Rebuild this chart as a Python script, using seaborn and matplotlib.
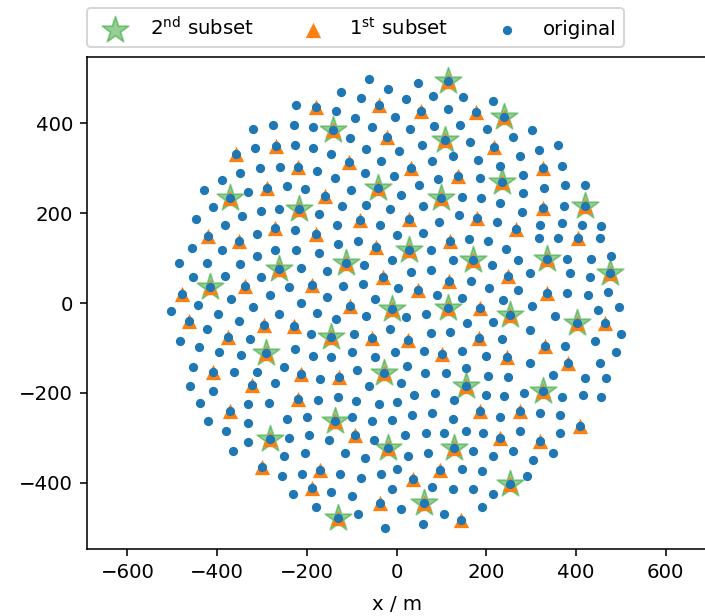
import matplotlib
matplotlib.use("Agg")
import matplotlib.pyplot as plt
import seaborn as sns

# ---- points (metres) ----
# plain points (only in "original")
plain_x = [
    -320, -275, -315, -348, -305, -260, -389, -430, -330, -410, -448, -383, -344, -303, -262,
    -61, -123, -19, -225, -135, -80, -4, -228, -186, -93, -54, -104, -227, -186, -145, -67, 5,
    -177, -136, -71, -35, -6, -245, -205, -102, -173, -121, -67, -15, 10, -132, -37,
    48, 21, 82, 149, 215, 115, 30, 84, 141, 201, 259, 56, 163, 126, 181, 230, 79, 93, 186, 50,
    145, 188, 230, 59, 95, 139, 223,
    301, 317, 360, 275, 370, 282, 328, 375, 420, 282, 374, 279, 320, 369, 413, 457,
    -312, -455, -389, -311, -271, -485, -422, -349, -454, -383, -301, -370, -442, -283, -502,
    -399, -321, -352, -422, -262, -482, -326, -440, -396, -347, -454, -363, -310, -271, -461,
    -227, -223, -173, -130, -86, 0, -212, -154, -72, -11, -240, -119, -75, 4, -213, -155, -48,
    -178, -134, -69, -190, -95, -15, -227, -186, -145, -100, -48, -4, -251, -170, -88, -61,
    59, 162, 203, 76, 126, 244, 271, 33, 76, 212, 167, 91, 147, 207, 271, 238, 22, 65, 157,
    215, 76, 119, 236, 61, 145, 199, 24, 63, 110, 156, 204, 249, 11,
    317, 360, 453, 380, 433, 478, 297, 387, 432, 380, 427, 472, 302, 497, 353, 450, 297, 500,
    376, 443, 297, 453, 490, 350, 420, 468,
    -437, -330, -285, -175, -130, -90, -40, 0, 40, 85, 128, 200, 240, 285, 370, 415, 455,
    -420, -330, -245, -200, -100, -55, -10, 35, 80, 125, 230, 320, 365,
    -380, -330, -240, -195, -150, -50, 20, 65, 105, 155, 193, 275, 365,
    -365, -250, -205, -115, -70, 25, 70, 170, 215, 260, 305, 350,
    -255, -210, -125, -80, -35, 0, 145, 190, 290,
    -230, -145, -100, -10, 80, 125, 170, 215,
    -180, -85, 10, 105, 190,
    -26, 60, -410,
]
plain_y = [
    388, 396, 346, 289, 301, 304, 274, 252, 247, 214, 188, 174, 194, 206, 210,
    498, 471, 477, 440, 428, 456, 414, 397, 392, 413, 393, 367, 351, 346, 333, 344, 339,
    295, 278, 289, 317, 282, 260, 254, 252, 198, 215, 219, 209, 241, 174, 173,
    491, 454, 462, 460, 451, 432, 388, 395, 396, 387, 370, 353, 358, 327, 319, 306, 317, 276, 278, 262,
    237, 234, 222, 215, 180, 197, 180,
    386, 341, 351, 328, 306, 286, 256, 262, 262, 245, 217, 202, 174, 178, 174, 171,
    154, 122, 119, 104, 117, 89, 90, 87, 59, 61, 58, 9, -4, 17, -17,
    -24, -8, -40, -58, -25, -84, -80, -99, -110, -115, -142, -154, -153, -179, -184,
    163, 119, 111, 131, 137, 152, 79, 72, 85, 96, 35, 37, 42, 33, 1, 13, 9,
    -23, -36, -30, -69, -69, -58, -103, -119, -121, -110, -121, -110, -142, -169, -150, -185,
    157, 143, 137, 117, 96, 120, 96, 70, 74, 85, 50, 18, 11, 33, 29, 7, -32, -24, -44,
    -43, -66, -64, -80, -108, -106, -119, -140, -157, -157, -145, -162, -165, -179,
    144, 144, 144, 99, 99, 105, 66, 66, 58, 23, 18, 25, -6, -10, -28, -15, -61, -70,
    -95, -84, -133, -133, -110, -160, -168, -168,
    -222, -225, -222, -215, -210, -218, -225, -220, -205, -200, -215, -205, -208, -200, -210, -205, -210,
    -262, -268, -258, -255, -255, -262, -260, -250, -245, -258, -255, -245, -250,
    -285, -310, -300, -295, -305, -305, -295, -290, -290, -285, -290, -285, -290,
    -330, -340, -335, -335, -345, -340, -335, -330, -340, -330, -350, -335,
    -385, -380, -380, -390, -380, -370, -370, -375, -385,
    -425, -420, -430, -415, -410, -415, -415, -425,
    -455, -470, -460, -470, -455,
    -502, -492, -195,
]

# points of the 1st subset that are not in the 2nd subset
tri_x = [
    -358, -269, -288, -270, -180, -39, -21, -219, -106, -160, -82, 54, 177, 218, 33, 137, 28,
    180, 326, 327, -420, -352, -338, -479, -462, -296, -376, -409, -323, -180, -45, -188, -30,
    -104, -228, -54, -214, -128, 119, 266, 117, 249, 48, 186, 26, 184, 102, 247,
    405, 335, 465, 331, 382,
    -372, -300, -220, -93, -37, 143, 231, 320, 409, -171, 36, 97, 186, 275, -189,
]
tri_y = [
    333, 349, 256, 166, 436, 440, 370, 303, 313, 239, 184, 427, 425, 347, 300, 282, 188,
    189, 300, 211, 150, 139, 37, 20, -41, -49, -75, -153, -182, 154, 124, 39, 57,
    -6, -51, -79, -158, -165, 139, 164, 50, 61, 28, -12, -82, -79, -113, -121,
    144, 23, -44, -95, -133,
    -240, -365, -213, -295, -445, -483, -300, -307, -273, -373, -391, -373, -240, -240, -411,
]

# points of the 2nd subset
star_x = [
    -372, -141, -41, -218, 115, 239, 109, 236, 100, 420, -261, -416, -290, -113, -11, -147,
    -28, 28, 171, 114, 253, 155, 335, 476, 402,
    -138, -19, 128, -283, 253, 61, -131, 327,
]
star_y = [
    234, 385, 256, 209, 494, 414, 364, 269, 234, 217, 76, 35, -112, 89, -13, -75,
    -157, 119, 96, -12, -26, -184, 99, 66, -44,
    -263, -324, -324, -302, -403, -445, -478, -195,
]

orig_x = plain_x + tri_x + star_x
orig_y = plain_y + tri_y + star_y
sub1_x = tri_x + star_x
sub1_y = tri_y + star_y

DPI = 142
fig = plt.figure(figsize=(705 / DPI, 616 / DPI), dpi=DPI)
ax = fig.add_axes([87 / 705, 1 - 549 / 616, 619 / 705, 492 / 616])

sns.scatterplot(x=star_x, y=star_y, ax=ax, marker="*", s=200, color="#2ca02c",
                alpha=0.5, edgecolor="#2ca02c", linewidth=0.9,
                label=r"2$^{\mathrm{nd}}$ subset", zorder=2)
sns.scatterplot(x=sub1_x, y=sub1_y, ax=ax, marker="^", s=60, color="#ff7f0e",
                linewidth=0, label=r"1$^{\mathrm{st}}$ subset", zorder=3)
sns.scatterplot(x=orig_x, y=orig_y, ax=ax, marker="o", s=22, color="#1f77b4",
                linewidth=0, label="original", zorder=4)

ax.set_xlim(-690, 690)
ax.set_ylim(-548, 548)
ax.set_xticks([-600, -400, -200, 0, 200, 400, 600])
ax.set_yticks([-400, -200, 0, 200, 400])
ax.set_xlabel("x / m", labelpad=6.5)
ax.legend(loc="lower left", bbox_to_anchor=(0, 1.02), ncol=3, borderaxespad=0)

fig.savefig("out.png", dpi=DPI)
